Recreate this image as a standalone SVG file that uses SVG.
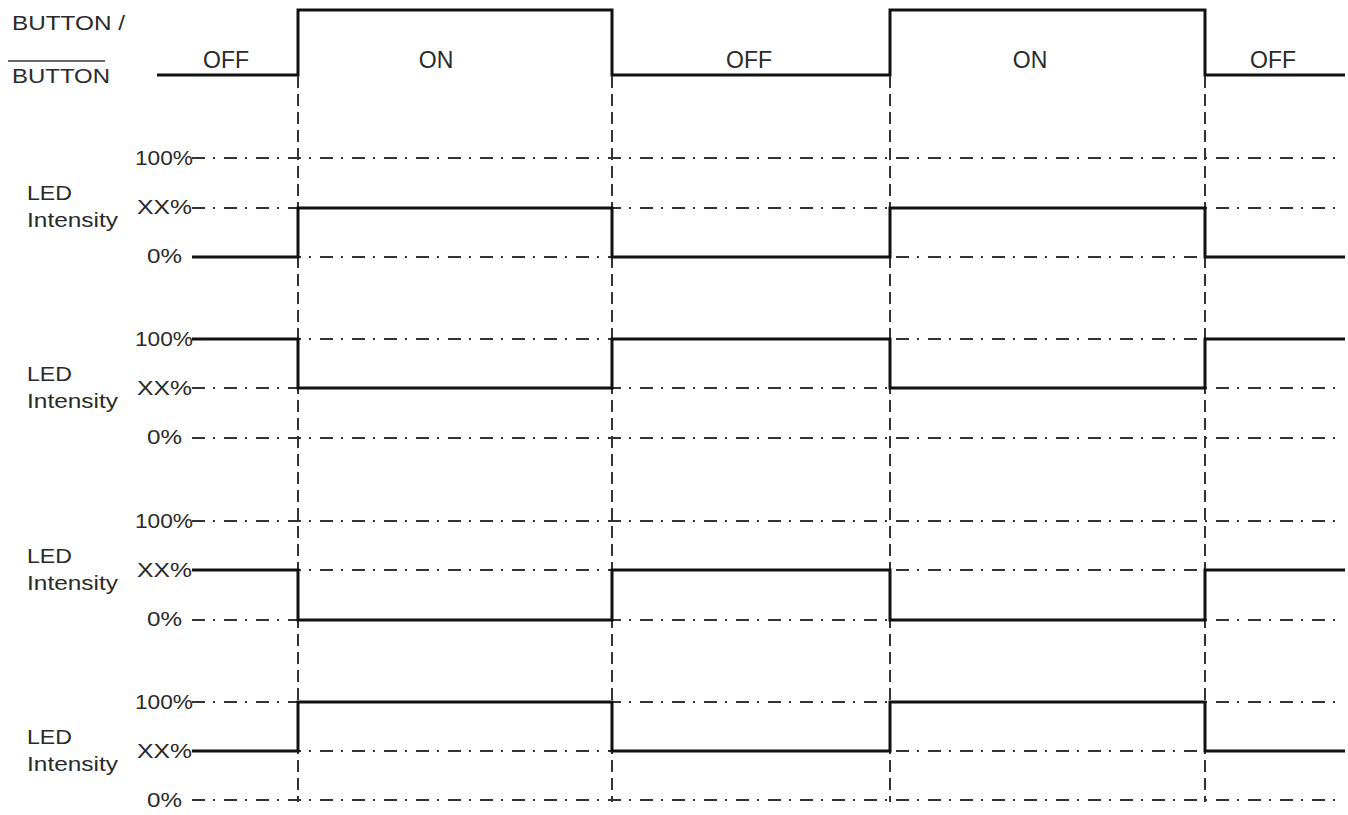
<svg xmlns="http://www.w3.org/2000/svg" width="1348" height="815" viewBox="0 0 1348 815">
<style>
text{font-family:"Liberation Sans",Arial,sans-serif;font-size:21px;fill:#2a2a2a}
.st{font-size:23px;text-anchor:middle}
.sig{fill:none;stroke:#111;stroke-width:3}
.dd{fill:none;stroke:#333;stroke-width:2;stroke-dasharray:13 8 2 9}
.vd{fill:none;stroke:#333;stroke-width:2;stroke-dasharray:12 6}
</style>
<rect width="1348" height="815" fill="#fff"/>
<g id="button">
<text x="12" y="30" textLength="113" lengthAdjust="spacingAndGlyphs">BUTTON /</text>
<line x1="8" y1="61" x2="105" y2="61" stroke="#333" stroke-width="1.5"/>
<text x="12" y="83" textLength="98" lengthAdjust="spacingAndGlyphs">BUTTON</text>
<text class="st" x="226" y="68">OFF</text>
<text class="st" x="436" y="68">ON</text>
<text class="st" x="749" y="68">OFF</text>
<text class="st" x="1030" y="68">ON</text>
<text class="st" x="1273" y="68">OFF</text>
<path class="sig" d="M157 75H298V10H612V75H890V10H1205V75H1345"/>
</g>
<g id="connectors">
<line class="vd" x1="298" y1="76" x2="298" y2="802"/>
<line class="vd" x1="612" y1="76" x2="612" y2="802"/>
<line class="vd" x1="890" y1="76" x2="890" y2="802"/>
<line class="vd" x1="1205" y1="76" x2="1205" y2="802"/>
</g>
<g id="panel1">
<text x="27" y="200" textLength="45" lengthAdjust="spacingAndGlyphs">LED</text>
<text x="27" y="227" textLength="91" lengthAdjust="spacingAndGlyphs">Intensity</text>
<text x="135" y="165" textLength="58" lengthAdjust="spacingAndGlyphs">100%</text>
<text x="137" y="214" textLength="55" lengthAdjust="spacingAndGlyphs">XX%</text>
<text x="147" y="263" textLength="35" lengthAdjust="spacingAndGlyphs">0%</text>
<path class="dd" d="M192 158H1340M192 208H1340M192 257H1340"/>
<path class="sig" d="M192 257H298V208H612V257H890V208H1205V257H1345"/>
</g>
<g id="panel2">
<text x="27" y="381" textLength="45" lengthAdjust="spacingAndGlyphs">LED</text>
<text x="27" y="408" textLength="91" lengthAdjust="spacingAndGlyphs">Intensity</text>
<text x="135" y="346" textLength="58" lengthAdjust="spacingAndGlyphs">100%</text>
<text x="137" y="395" textLength="55" lengthAdjust="spacingAndGlyphs">XX%</text>
<text x="147" y="444" textLength="35" lengthAdjust="spacingAndGlyphs">0%</text>
<path class="dd" d="M192 339H1340M192 388H1340M192 438H1340"/>
<path class="sig" d="M192 339H298V388H612V339H890V388H1205V339H1345"/>
</g>
<g id="panel3">
<text x="27" y="563" textLength="45" lengthAdjust="spacingAndGlyphs">LED</text>
<text x="27" y="590" textLength="91" lengthAdjust="spacingAndGlyphs">Intensity</text>
<text x="135" y="528" textLength="58" lengthAdjust="spacingAndGlyphs">100%</text>
<text x="137" y="577" textLength="55" lengthAdjust="spacingAndGlyphs">XX%</text>
<text x="147" y="626" textLength="35" lengthAdjust="spacingAndGlyphs">0%</text>
<path class="dd" d="M192 521H1340M192 570H1340M192 620H1340"/>
<path class="sig" d="M192 570H298V620H612V570H890V620H1205V570H1345"/>
</g>
<g id="panel4">
<text x="27" y="744" textLength="45" lengthAdjust="spacingAndGlyphs">LED</text>
<text x="27" y="771" textLength="91" lengthAdjust="spacingAndGlyphs">Intensity</text>
<text x="135" y="709" textLength="58" lengthAdjust="spacingAndGlyphs">100%</text>
<text x="137" y="758" textLength="55" lengthAdjust="spacingAndGlyphs">XX%</text>
<text x="147" y="807" textLength="35" lengthAdjust="spacingAndGlyphs">0%</text>
<path class="dd" d="M192 702H1340M192 751H1340M192 800H1340"/>
<path class="sig" d="M192 751H298V702H612V751H890V702H1205V751H1345"/>
</g>
</svg>
